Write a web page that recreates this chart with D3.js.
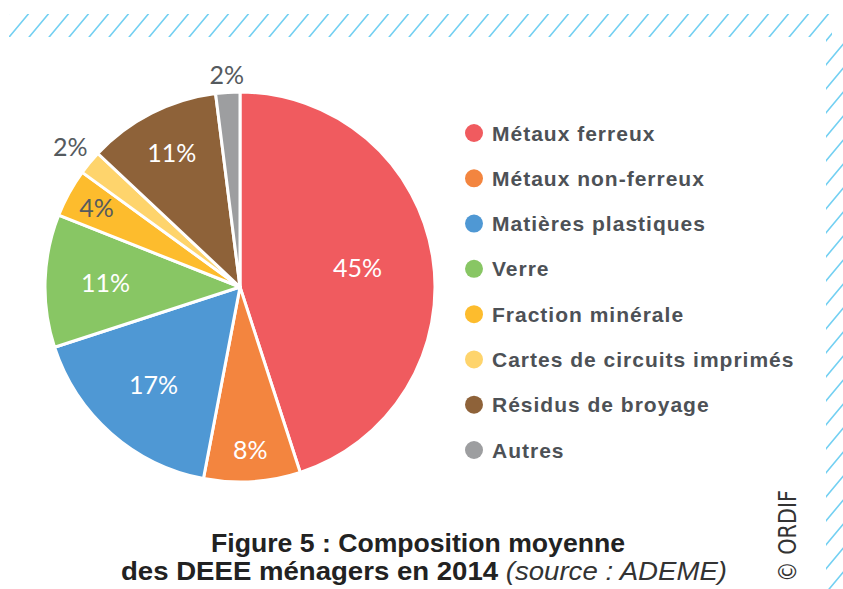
<!DOCTYPE html>
<html>
<head>
<meta charset="utf-8">
<script src="https://cdn.jsdelivr.net/npm/d3@7"></script>
<style>
  html, body { margin: 0; padding: 0; background: #fff; }
  svg { display: block; }
</style>
</head>
<body>
<svg></svg>
<script>
const categories = ['Métaux ferreux', 'Métaux non-ferreux', 'Matières plastiques', 'Verre',
  'Fraction minérale', 'Cartes de circuits imprimés', 'Résidus de broyage', 'Autres']
const values = [45, 8, 17, 11, 4, 2, 11, 2]
const colors = ['#f05b5f', '#f3853f', '#4f98d4', '#88c664', '#fdbc2d', '#fed46c', '#8e6239', '#9d9ea0']
const labelColors = ['#fff', '#fff', '#fff', '#fff', '#555a5e', '#555a5e', '#fff', '#555a5e']
// label radius factor: inside or outside the pie
const labelRadius = [0.61, 0.84, 0.67, 0.69, 0.84, 1.13, 0.77, 1.09]

const width = 843
const height = 589
const cx = 240
const cy = 287
const radius = 195
const textColor = '#4d5156'

const svg = d3.select('svg')
              .attr('width', width)
              .attr('height', height)

// hatched border
const defs = svg.append('defs')
const pat = defs.append('pattern')
                .attr('id', 'hatch')
                .attr('patternUnits', 'userSpaceOnUse')
                .attr('width', 20)
                .attr('height', 24)
pat.append('path')
   .attr('d', 'M-1,25.2 L21,-1.2 M-21,25.2 L1,-1.2 M19,25.2 L41,-1.2')
   .attr('stroke', '#73d0f2')
   .attr('stroke-width', 1.6)

svg.append('rect')
   .attr('x', 9).attr('y', 14).attr('width', 823).attr('height', 23)
   .attr('fill', 'url(#hatch)')
svg.append('rect')
   .attr('x', 826).attr('y', 37).attr('width', 17).attr('height', height - 37)
   .attr('fill', 'url(#hatch)')

// pie
const pie = d3.pie().sort(null).value(d => d)
const arcs = pie(values)
const arc = d3.arc().innerRadius(0).outerRadius(radius)

const g = svg.append('g')
             .attr('transform', `translate(${cx}, ${cy})`)

g.selectAll('path')
 .data(arcs)
 .join('path')
 .attr('d', arc)
 .attr('fill', (d, i) => colors[i])
 .attr('stroke', '#fff')
 .attr('stroke-width', 3)
 .attr('stroke-linejoin', 'round')

g.selectAll('text')
 .data(arcs)
 .join('text')
 .attr('transform', (d, i) => {
   const r = radius * labelRadius[i]
   const a = (d.startAngle + d.endAngle) / 2
   return `translate(${Math.sin(a) * r}, ${-Math.cos(a) * r})`
 })
 .attr('text-anchor', 'middle')
 .attr('dy', '0.36em')
 .attr('fill', (d, i) => labelColors[i])
 .style('font-family', 'Lato, "Open Sans", sans-serif')
 .style('font-weight', 400)
 .style('font-size', '25px')
 .text(d => `${d.data}%`)

// legend
const legendY = d3.scalePoint()
                  .domain(categories)
                  .range([133, 450])

const legend = svg.append('g')
                  .selectAll('g')
                  .data(categories)
                  .join('g')
                  .attr('transform', d => `translate(474, ${legendY(d)})`)

legend.append('circle')
      .attr('r', 9)
      .attr('fill', (d, i) => colors[i])

legend.append('text')
      .attr('x', 18)
      .attr('dy', '0.36em')
      .attr('fill', textColor)
      .style('font-family', '"Liberation Sans", Arial, sans-serif')
      .style('font-weight', 'bold')
      .style('font-size', '21px')
      .style('letter-spacing', '1px')
      .text(d => d)

// title
svg.append('text')
   .attr('x', 418)
   .attr('y', 552)
   .attr('text-anchor', 'middle')
   .attr('fill', '#222')
   .style('font-family', '"Liberation Sans", Arial, sans-serif')
   .style('font-weight', 'bold')
   .style('font-size', '26px')
   .attr('textLength', 414)
   .attr('lengthAdjust', 'spacingAndGlyphs')
   .text('Figure 5 : Composition moyenne')

const t2 = svg.append('text')
   .attr('x', 424)
   .attr('y', 580)
   .attr('text-anchor', 'middle')
   .attr('fill', '#222')
   .style('font-family', '"Liberation Sans", Arial, sans-serif')
   .style('font-size', '26px')
   .attr('textLength', 606)
   .attr('lengthAdjust', 'spacingAndGlyphs')
t2.append('tspan').style('font-weight', 'bold').text('des DEEE ménagers en 2014 ')
t2.append('tspan').style('font-style', 'italic').style('font-weight', 300).attr('fill', '#333').text('(source : ADEME)')

// copyright
svg.append('text')
   .attr('transform', 'translate(796, 582)rotate(-90)')
   .attr('fill', '#333')
   .style('font-family', '"Liberation Sans Narrow", "DejaVu Sans Condensed", sans-serif')
   .style('font-size', '24px')
   .attr('textLength', 92)
   .attr('lengthAdjust', 'spacingAndGlyphs')
   .text('© ORDIF')
</script>
</body>
</html>
